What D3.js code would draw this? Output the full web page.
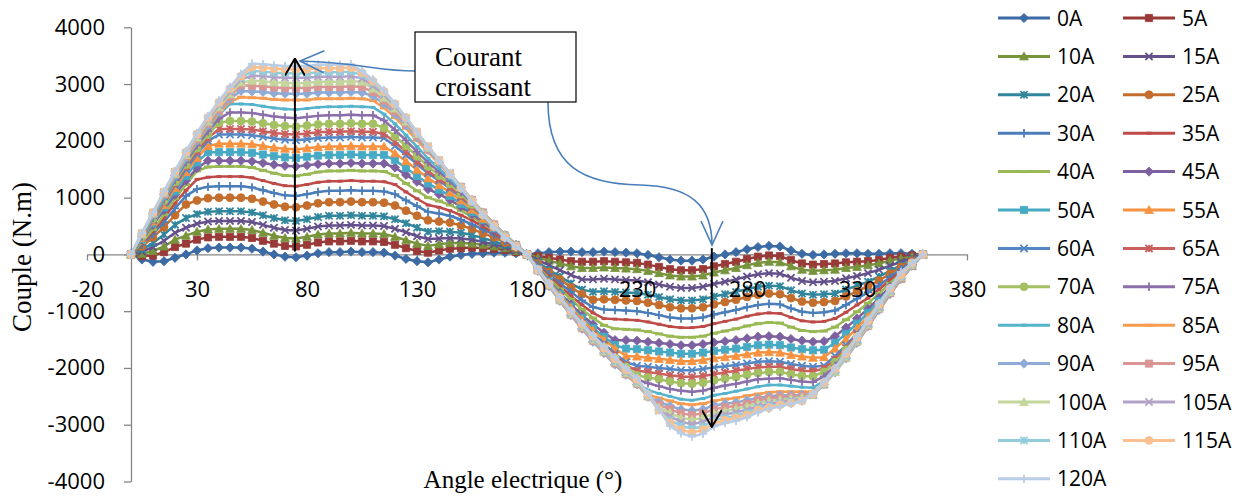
<!DOCTYPE html>
<html>
<head>
<meta charset="utf-8"/>
<title>Couple en fonction de l'angle electrique</title>
<script src="https://cdn.jsdelivr.net/npm/d3@7"></script>
<style>
    body, html {margin:0;padding:0;background:#fff;overflow:hidden;}
    .axis path, .axis line {stroke:#868686;stroke-width:1.3;}
    .axis text {font-family:"Open Sans",sans-serif;font-size:22px;fill:#000;}
    .legend text {font-family:"Open Sans",sans-serif;font-size:21px;fill:#000;}
    .title {font-family:"Liberation Serif","Times New Roman",serif;fill:#000;}
</style>
</head>
<body>
<svg id="chart" width="1241" height="496"></svg>
<script>
// angle electrique (degres), un point tous les 5°
var angles = [0,5,10,15,20,25,30,35,40,45,50,55,60,65,70,75,80,85,90,95,100,105,110,115,120,125,130,135,140,145,150,155,160,165,170,175,180,
              185,190,195,200,205,210,215,220,225,230,235,240,245,250,255,260,265,270,275,280,285,290,295,300,305,310,315,320,325,330,335,340,345,350,355,360];

var names = ["0A","5A","10A","15A","20A","25A","30A","35A","40A","45A","50A","55A","60A",
             "65A","70A","75A","80A","85A","90A","95A","100A","105A","110A","115A","120A"];

var xTicks = [-20, 30, 80, 130, 180, 230, 280, 330, 380];
var yTicks = [-4000, -3000, -2000, -1000, 0, 1000, 2000, 3000, 4000];

// couple (N.m)
var couple0 = [0,-90,-130,-120,-60,0,70,110,120,120,120,100,50,0,-40,-50,-20,20,40,40,50,40,40,30,-20,-80,-120,-140,-90,-40,-10,10,20,30,30,20,0,
    20,40,50,50,40,40,50,40,30,20,-10,-50,-90,-110,-110,-90,-40,0,40,90,130,150,140,70,10,-10,0,10,20,20,10,10,20,20,10,0];
var couple5 = [0,-30,-20,40,130,190,260,300,310,310,310,290,240,190,150,140,170,210,230,230,240,230,230,220,170,110,60,30,70,100,110,120,110,100,80,40,0,
    -30,-60,-90,-120,-130,-130,-120,-130,-140,-150,-180,-220,-260,-280,-280,-260,-210,-170,-130,-80,-40,-20,-30,-100,-160,-180,-170,-160,-140,-130,-120,-100,-60,-40,-20,0];
var couple10 = [0,10,60,140,260,330,400,440,450,450,450,430,380,330,290,280,310,350,370,370,380,370,370,360,310,250,190,150,180,200,200,190,170,140,110,60,0,
    -60,-110,-160,-210,-240,-240,-230,-240,-250,-260,-290,-330,-370,-390,-390,-370,-320,-280,-240,-190,-150,-130,-140,-210,-270,-290,-280,-270,-240,-220,-190,-160,-110,-70,-40,0];
var couple15 = [0,50,130,240,380,470,540,580,590,590,590,570,520,470,430,420,450,490,510,510,520,510,510,500,450,390,320,270,280,290,280,260,220,180,130,70,0,
    -100,-190,-280,-360,-440,-440,-430,-440,-450,-460,-490,-530,-570,-590,-590,-570,-520,-480,-440,-390,-350,-330,-340,-410,-470,-490,-480,-470,-420,-380,-330,-270,-200,-130,-60,0];
var couple20 = [0,90,200,350,520,640,710,750,760,760,760,740,690,640,600,590,620,660,680,680,690,680,680,670,620,550,470,400,410,400,380,340,290,230,170,90,0,
    -140,-270,-390,-510,-620,-660,-650,-660,-670,-680,-710,-750,-790,-810,-810,-790,-740,-700,-660,-610,-570,-550,-560,-630,-690,-710,-700,-690,-620,-550,-480,-390,-290,-190,-100,0];
var couple25 = [0,140,300,480,690,880,950,990,1000,1000,1000,980,930,880,840,830,860,900,920,920,930,920,920,910,860,770,680,600,580,560,510,450,370,300,210,110,0,
    -160,-310,-440,-580,-700,-800,-790,-800,-810,-820,-850,-890,-930,-950,-950,-930,-880,-840,-800,-750,-710,-690,-700,-770,-830,-850,-840,-820,-740,-650,-560,-460,-340,-220,-110,0];
var couple30 = [0,170,360,570,810,1030,1150,1190,1200,1200,1200,1180,1130,1080,1040,1030,1060,1100,1120,1120,1130,1120,1120,1110,1060,950,850,750,720,680,610,530,440,350,240,130,0,
    -180,-350,-510,-660,-810,-930,-970,-980,-990,-1000,-1030,-1070,-1110,-1130,-1130,-1110,-1060,-1020,-980,-930,-890,-870,-880,-950,-1010,-1030,-1020,-990,-890,-780,-670,-550,-400,-260,-130,0];
var couple35 = [0,190,400,640,900,1130,1320,1360,1370,1370,1370,1350,1300,1250,1210,1200,1230,1270,1290,1290,1300,1290,1290,1280,1230,1100,980,870,830,770,690,600,490,380,260,140,0,
    -200,-380,-560,-730,-890,-1030,-1130,-1140,-1150,-1160,-1190,-1230,-1270,-1290,-1290,-1270,-1220,-1180,-1140,-1090,-1050,-1030,-1040,-1110,-1170,-1190,-1180,-1130,-1020,-890,-770,-620,-450,-300,-150,0];
var couple40 = [0,210,440,700,980,1230,1470,1540,1550,1550,1550,1530,1480,1430,1390,1380,1410,1450,1470,1470,1480,1470,1470,1460,1390,1250,1120,1000,940,870,770,660,540,420,290,150,0,
    -220,-420,-610,-790,-970,-1120,-1250,-1310,-1320,-1330,-1360,-1400,-1440,-1460,-1460,-1440,-1390,-1350,-1310,-1260,-1220,-1200,-1210,-1280,-1340,-1360,-1350,-1280,-1150,-1010,-860,-690,-510,-330,-160,0];
var couple45 = [0,260,520,780,1050,1300,1520,1650,1650,1650,1650,1640,1610,1580,1560,1550,1570,1590,1600,1600,1610,1600,1600,1600,1530,1400,1280,1150,1060,960,840,710,570,430,290,150,0,
    -240,-460,-680,-880,-1070,-1230,-1380,-1510,-1510,-1520,-1540,-1560,-1580,-1600,-1600,-1580,-1550,-1530,-1510,-1480,-1450,-1440,-1450,-1490,-1520,-1540,-1530,-1440,-1290,-1130,-960,-770,-570,-370,-180,0];
var couple50 = [0,270,550,830,1110,1380,1620,1800,1800,1800,1800,1790,1760,1730,1710,1700,1720,1740,1750,1750,1760,1750,1750,1750,1660,1520,1380,1250,1140,1030,890,750,610,460,300,150,0,
    -250,-480,-700,-920,-1120,-1300,-1450,-1600,-1660,-1670,-1690,-1710,-1730,-1750,-1750,-1730,-1700,-1680,-1660,-1630,-1600,-1590,-1600,-1640,-1670,-1690,-1680,-1560,-1400,-1220,-1030,-820,-600,-390,-190,0];
var couple55 = [0,290,580,870,1170,1450,1700,1910,1950,1950,1950,1940,1910,1880,1860,1850,1870,1890,1900,1900,1910,1900,1900,1900,1780,1640,1490,1340,1220,1090,950,790,630,480,320,160,0,
    -260,-490,-720,-940,-1150,-1340,-1500,-1660,-1790,-1800,-1820,-1840,-1860,-1880,-1880,-1860,-1830,-1810,-1790,-1760,-1730,-1720,-1730,-1770,-1800,-1820,-1810,-1660,-1490,-1300,-1090,-870,-630,-410,-200,0];
var couple60 = [0,300,600,910,1220,1500,1770,2000,2110,2110,2110,2100,2070,2040,2020,2010,2030,2050,2060,2060,2070,2060,2060,2050,1910,1750,1590,1430,1300,1160,1000,840,670,500,330,170,0,
    -260,-510,-750,-980,-1200,-1400,-1570,-1750,-1900,-1960,-1980,-2000,-2020,-2040,-2040,-2020,-1990,-1970,-1950,-1920,-1890,-1880,-1890,-1930,-1960,-1980,-1960,-1790,-1600,-1390,-1160,-920,-670,-430,-210,0];
var couple65 = [0,300,610,930,1250,1550,1820,2050,2210,2210,2210,2200,2170,2140,2120,2110,2130,2150,2160,2160,2170,2160,2160,2120,1980,1810,1640,1470,1330,1190,1020,850,680,500,330,160,0,
    -270,-520,-760,-1000,-1220,-1420,-1610,-1780,-1950,-2050,-2070,-2100,-2130,-2150,-2160,-2140,-2110,-2080,-2050,-2020,-1990,-1980,-1980,-2020,-2050,-2060,-2010,-1850,-1650,-1420,-1190,-940,-680,-430,-200,0];
var couple70 = [0,310,630,950,1280,1580,1870,2110,2320,2350,2350,2340,2310,2280,2260,2250,2270,2290,2300,2300,2310,2300,2300,2230,2080,1910,1730,1550,1390,1240,1060,880,690,510,340,170,0,
    -270,-530,-770,-1010,-1240,-1450,-1630,-1820,-1980,-2130,-2170,-2200,-2240,-2270,-2280,-2260,-2220,-2190,-2160,-2120,-2090,-2070,-2070,-2110,-2140,-2150,-2070,-1900,-1680,-1450,-1210,-950,-680,-430,-200,0];
var couple75 = [0,320,640,970,1310,1620,1920,2170,2390,2500,2500,2490,2460,2430,2410,2400,2420,2440,2450,2450,2460,2450,2450,2360,2190,2010,1810,1620,1460,1290,1100,910,710,530,340,170,0,
    -280,-540,-790,-1030,-1260,-1480,-1670,-1860,-2040,-2200,-2270,-2320,-2370,-2400,-2420,-2400,-2350,-2310,-2280,-2240,-2200,-2190,-2180,-2210,-2240,-2250,-2150,-1960,-1740,-1490,-1230,-970,-690,-430,-200,0];
var couple80 = [0,320,650,990,1330,1660,1960,2230,2460,2650,2650,2640,2610,2580,2560,2550,2570,2590,2600,2600,2610,2600,2590,2470,2300,2100,1900,1690,1520,1330,1140,940,730,540,350,170,0,
    -280,-550,-800,-1050,-1290,-1510,-1710,-1910,-2090,-2260,-2390,-2450,-2500,-2550,-2570,-2540,-2480,-2450,-2410,-2370,-2330,-2300,-2300,-2320,-2340,-2350,-2220,-2020,-1790,-1530,-1260,-980,-700,-440,-200,0];
var couple85 = [0,350,700,1040,1380,1690,1980,2250,2480,2690,2770,2760,2750,2730,2720,2720,2720,2740,2740,2740,2750,2740,2710,2580,2410,2220,2010,1800,1600,1390,1170,950,740,540,340,160,0,
    -290,-560,-820,-1070,-1310,-1530,-1740,-1940,-2120,-2290,-2470,-2530,-2580,-2630,-2650,-2630,-2580,-2550,-2530,-2490,-2460,-2430,-2420,-2420,-2420,-2420,-2270,-2060,-1820,-1550,-1280,-990,-710,-440,-200,0];
var couple90 = [0,360,710,1060,1390,1710,2010,2280,2520,2740,2880,2870,2860,2840,2830,2830,2830,2850,2850,2850,2860,2850,2790,2650,2470,2270,2060,1840,1620,1410,1180,960,740,530,340,160,0,
    -290,-560,-820,-1070,-1310,-1540,-1740,-1940,-2120,-2290,-2510,-2600,-2670,-2730,-2750,-2730,-2660,-2630,-2610,-2570,-2530,-2500,-2480,-2480,-2470,-2460,-2290,-2080,-1830,-1560,-1270,-980,-700,-430,-200,0];
var couple95 = [0,360,710,1060,1410,1730,2030,2310,2550,2780,2980,2970,2960,2940,2930,2930,2930,2950,2950,2950,2960,2950,2860,2710,2520,2310,2090,1860,1640,1420,1190,960,740,530,330,160,0,
    -280,-550,-810,-1060,-1300,-1520,-1720,-1920,-2110,-2280,-2500,-2650,-2730,-2800,-2830,-2800,-2730,-2690,-2670,-2630,-2570,-2540,-2520,-2510,-2500,-2470,-2290,-2070,-1820,-1540,-1260,-960,-680,-420,-190,0];
var couple100 = [0,360,720,1080,1420,1750,2060,2340,2590,2820,3030,3060,3050,3030,3020,3020,3020,3040,3040,3040,3050,3040,2920,2760,2570,2340,2120,1880,1650,1420,1190,960,730,520,330,150,0,
    -280,-540,-800,-1050,-1280,-1500,-1710,-1900,-2090,-2260,-2500,-2700,-2790,-2880,-2910,-2880,-2800,-2760,-2720,-2680,-2620,-2580,-2560,-2540,-2520,-2470,-2290,-2070,-1810,-1530,-1240,-950,-660,-400,-180,0];
var couple105 = [0,370,730,1090,1440,1770,2090,2370,2630,2860,3080,3150,3140,3120,3110,3110,3110,3130,3130,3130,3140,3100,2970,2810,2610,2370,2140,1900,1660,1430,1190,950,720,510,320,150,0,
    -280,-540,-790,-1040,-1270,-1490,-1690,-1890,-2070,-2240,-2490,-2750,-2850,-2950,-2990,-2950,-2860,-2820,-2780,-2740,-2670,-2630,-2600,-2570,-2550,-2480,-2290,-2050,-1790,-1510,-1220,-930,-640,-390,-170,0];
var couple110 = [0,370,740,1100,1450,1790,2110,2400,2660,2900,3110,3230,3220,3200,3190,3190,3190,3210,3210,3210,3220,3160,3020,2850,2640,2400,2160,1900,1660,1420,1180,940,710,500,320,150,0,
    -270,-530,-780,-1020,-1250,-1470,-1670,-1870,-2050,-2230,-2480,-2750,-2920,-3020,-3070,-3030,-2920,-2880,-2840,-2790,-2710,-2670,-2630,-2600,-2570,-2470,-2280,-2050,-1780,-1490,-1200,-910,-630,-380,-160,0];
var couple115 = [0,370,740,1100,1460,1800,2120,2410,2680,2920,3140,3300,3290,3270,3260,3260,3260,3280,3280,3280,3290,3200,3050,2870,2650,2410,2160,1900,1660,1410,1170,940,700,500,300,140,0,
    -270,-520,-770,-1000,-1230,-1440,-1650,-1840,-2030,-2200,-2470,-2740,-2970,-3090,-3140,-3090,-2980,-2920,-2880,-2830,-2740,-2700,-2650,-2620,-2580,-2460,-2260,-2020,-1750,-1460,-1170,-880,-600,-360,-150,0];
var couple120 = [0,380,740,1110,1470,1820,2140,2440,2710,2950,3180,3360,3350,3330,3320,3320,3320,3340,3340,3340,3350,3230,3080,2890,2660,2410,2150,1890,1650,1400,1160,920,690,480,290,130,0,
    -260,-510,-750,-990,-1210,-1420,-1620,-1810,-2000,-2170,-2450,-2730,-3020,-3150,-3210,-3160,-3030,-2970,-2930,-2870,-2780,-2720,-2680,-2630,-2590,-2450,-2240,-2000,-1720,-1440,-1150,-860,-590,-310,-150,0];

var series = [couple0, couple5, couple10, couple15, couple20, couple25, couple30, couple35, couple40,
              couple45, couple50, couple55, couple60, couple65, couple70, couple75, couple80, couple85,
              couple90, couple95, couple100, couple105, couple110, couple115, couple120];

// couleurs Excel (6 teintes, variees par groupe)
var colors = ["#3B6AA5","#993A38","#77933C","#64508A","#31859C","#C46E2E",
              "#4A7EBB","#BE4B48","#98B954","#7D60A0","#46AAC5","#F69240",
              "#5586C4","#C9605D","#A3C162","#8A6FAB","#55B3CB","#F89C52",
              "#8EAAD6","#D99694","#C3D69B","#B3A2C7","#93CDDD","#FAC090",
              "#B9CDE5"];
var markerTypes = ["diamond","square","triangle","x","star","circle","plus","dash","longdash"];

var svg = d3.select("#chart");
var x = d3.scaleLinear().domain([-20, 380]).range([87, 967]);
var y = d3.scaleLinear().domain([-4000, 4000]).range([481.5, 27.3]);

// symboles des marqueurs
var sym = {
    diamond: {draw: function(p, r){ p.moveTo(0,-r); p.lineTo(r,0); p.lineTo(0,r); p.lineTo(-r,0); p.closePath(); }},
    square: {draw: function(p, r){ p.rect(-r,-r,2*r,2*r); }},
    triangle: {draw: function(p, r){ p.moveTo(0,-r); p.lineTo(r,r*0.8); p.lineTo(-r,r*0.8); p.closePath(); }},
    x: {draw: function(p, r){ p.moveTo(-r,-r); p.lineTo(r,r); p.moveTo(r,-r); p.lineTo(-r,r); }},
    star: {draw: function(p, r){ p.moveTo(-r,-r); p.lineTo(r,r); p.moveTo(r,-r); p.lineTo(-r,r); p.moveTo(0,-r); p.lineTo(0,r); }},
    circle: {draw: function(p, r){ p.moveTo(r,0); p.arc(0,0,r,0,2*Math.PI); }},
    plus: {draw: function(p, r){ p.moveTo(-r,0); p.lineTo(r,0); p.moveTo(0,-r); p.lineTo(0,r); }},
    dash: {draw: function(p, r){ p.moveTo(-r*0.6,0); p.lineTo(r*0.6,0); }},
    longdash: {draw: function(p, r){ p.moveTo(-r,0); p.lineTo(r,0); }}
};
var symSize = {diamond:4.6, square:3.6, triangle:4.4, x:3.6, star:3.6, circle:4, plus:4.2, dash:4, longdash:4};
var filled = {diamond:true, square:true, triangle:true, circle:true};

function drawMarker(g, type, color, cx, cy) {
    var m = g.append("path")
        .attr("d", d3.symbol().type(sym[type]).size(symSize[type])())
        .attr("transform", "translate(" + cx + "," + cy + ")");
    if (filled[type]) m.attr("fill", color).attr("stroke", color).attr("stroke-width", 0.8);
    else m.attr("fill", "none").attr("stroke", color).attr("stroke-width", type.indexOf("dash") >= 0 ? 3 : 1.8);
}

var xAxis = d3.axisBottom(x).tickValues(xTicks).tickSize(6).tickSizeOuter(0).tickPadding(21)
    .tickFormat(function(d){ return String(d); });
var yAxis = d3.axisLeft(y).tickValues(yTicks).tickSize(7).tickSizeOuter(0).tickPadding(19)
    .tickFormat(function(d){ return String(d); });

// lignes des axes sous les courbes
var axX = svg.append("g").attr("class", "axis").attr("transform", "translate(0," + y(0) + ")").call(xAxis);
var axY = svg.append("g").attr("class", "axis").attr("transform", "translate(" + x(0) + ",0)").call(yAxis);
axX.selectAll("text").remove();
axY.selectAll("text").remove();

// courbes
var line = d3.line().x(function(d, i){ return x(angles[i]); }).y(function(d){ return y(d); });
var plot = svg.append("g");
series.forEach(function(vals, k) {
    var g = plot.append("g");
    g.append("path").datum(vals).attr("d", line)
        .attr("fill", "none").attr("stroke", colors[k]).attr("stroke-width", 2.5)
        .attr("stroke-linejoin", "round");
    var t = markerTypes[k % 9];
    vals.forEach(function(v, i){ drawMarker(g, t, colors[k], x(angles[i]), y(v)); });
});

// etiquettes des axes au-dessus des courbes
var lbX = svg.append("g").attr("class", "axis").attr("transform", "translate(0," + y(0) + ")").call(xAxis);
var lbY = svg.append("g").attr("class", "axis").attr("transform", "translate(" + x(0) + ",0)").call(yAxis);
lbX.selectAll("path, line").remove();
lbY.selectAll("path, line").remove();

// legende
var leg = svg.append("g").attr("class", "legend");
names.forEach(function(n, k) {
    var col = k % 2, row = Math.floor(k / 2);
    var lx = 998 + col * 125, ly = 18 + row * 38.4;
    leg.append("line").attr("x1", lx).attr("x2", lx + 52).attr("y1", ly).attr("y2", ly)
        .attr("stroke", colors[k]).attr("stroke-width", 3);
    drawMarker(leg, markerTypes[k % 9], colors[k], lx + 26, ly);
    leg.append("text").attr("x", lx + 59).attr("y", ly).attr("dy", "0.36em").text(n);
});

// annotation
var defs = svg.append("defs");
defs.append("marker").attr("id", "headBlack").attr("viewBox", "0 0 20 20")
    .attr("refX", 19).attr("refY", 10).attr("markerWidth", 20).attr("markerHeight", 20)
    .attr("markerUnits", "userSpaceOnUse").attr("orient", "auto")
    .append("path").attr("d", "M2,0 L19,10 L2,20").attr("fill", "none").attr("stroke", "#000").attr("stroke-width", 2);
defs.append("marker").attr("id", "headBlue").attr("viewBox", "0 0 28 28")
    .attr("refX", 26).attr("refY", 14).attr("markerWidth", 28).attr("markerHeight", 28)
    .attr("markerUnits", "userSpaceOnUse").attr("orient", "auto")
    .append("path").attr("d", "M2,3 L26,14 L2,25").attr("fill", "none").attr("stroke", "#4A7EBB").attr("stroke-width", 1.6);

var ann = svg.append("g");
ann.append("line").attr("x1", x(74.5)).attr("x2", x(74.5)).attr("y1", y(50)).attr("y2", y(3450))
    .attr("stroke", "#000").attr("stroke-width", 2).attr("marker-end", "url(#headBlack)");
ann.append("line").attr("x1", x(264)).attr("x2", x(264)).attr("y1", y(110)).attr("y2", y(-3040))
    .attr("stroke", "#000").attr("stroke-width", 2).attr("marker-end", "url(#headBlack)");

ann.append("path").attr("d", "M415,71 C378,71 362,63 300,61")
    .attr("fill", "none").attr("stroke", "#4A7EBB").attr("stroke-width", 1.6).attr("marker-end", "url(#headBlue)");
ann.append("path").attr("d", "M548,102 C548,168 585,184 640,185 C690,186 712,205 712,245")
    .attr("fill", "none").attr("stroke", "#4A7EBB").attr("stroke-width", 1.6).attr("marker-end", "url(#headBlue)");

ann.append("rect").attr("x", 415).attr("y", 32).attr("width", 161).attr("height", 70)
    .attr("fill", "#fff").attr("stroke", "#000").attr("stroke-width", 1.2);
ann.append("text").attr("class", "title").attr("x", 435).attr("y", 66).attr("font-size", 27).text("Courant");
ann.append("text").attr("class", "title").attr("x", 435).attr("y", 96).attr("font-size", 27).text("croissant");

// titres des axes
svg.append("text").attr("class", "title").attr("font-size", 25)
    .attr("text-anchor", "middle").attr("x", 523).attr("y", 488).text("Angle electrique (°)");
svg.append("text").attr("class", "title").attr("font-size", 27)
    .attr("text-anchor", "middle").attr("transform", "translate(31,257) rotate(-90)").text("Couple (N.m)");
</script>
</body>
</html>
